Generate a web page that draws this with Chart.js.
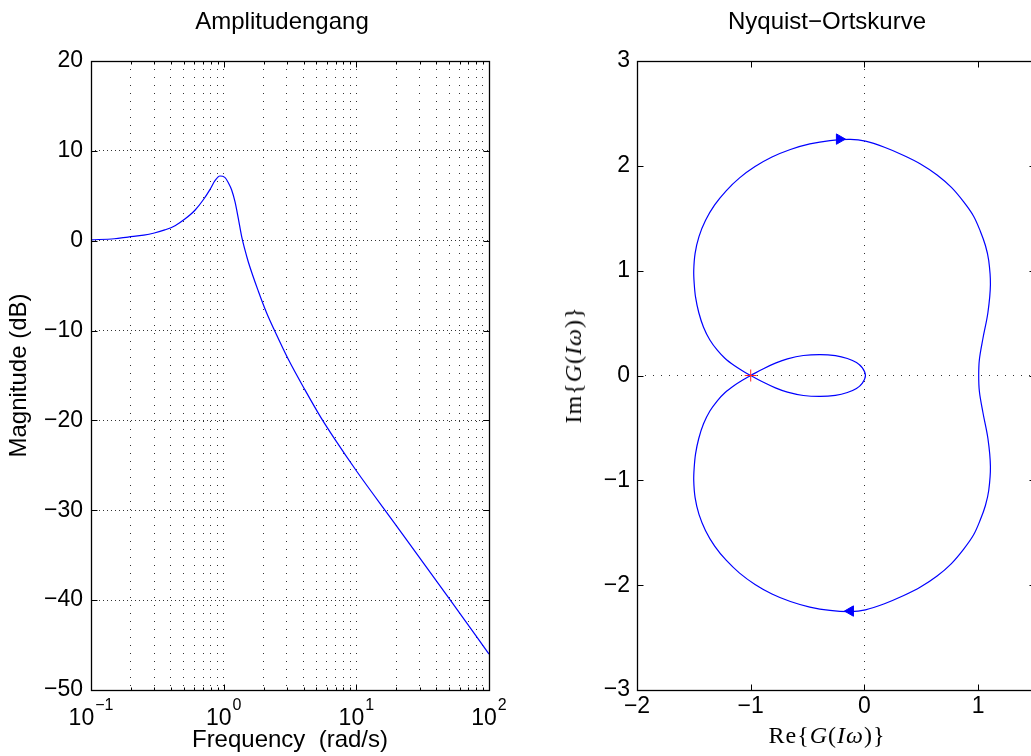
<!DOCTYPE html>
<html><head><meta charset="utf-8">
<script src="https://cdn.jsdelivr.net/npm/chart.js@4.4.1/dist/chart.umd.min.js"></script>
<style>
html,body{margin:0;padding:0;background:#fff;overflow:hidden;width:1031px;height:756px;}
#wrap{position:relative;width:1031px;height:756px;overflow:hidden;background:#fff;}
#c1{position:absolute;left:0;top:0;}
#c2{position:absolute;left:520px;top:0;}
.tex{position:absolute;font-family:'Liberation Serif','Times New Roman',serif;font-size:24px;line-height:24px;color:#000;white-space:nowrap;letter-spacing:1px;}
#reLabel{left:827px;top:723px;transform:translate(-50%,0);}
#imLabel{left:573px;top:365px;transform:translate(-50%,-50%) rotate(-90deg);}
</style></head>
<body><div id="wrap">
<canvas id="c1" width="564" height="756"></canvas>
<canvas id="c2" width="614" height="756"></canvas>
<div class="tex" id="reLabel">Re{<i>G</i>(<i>I</i><i>ω</i>)}</div>
<div class="tex" id="imLabel">Im{<i>G</i>(<i>I</i><i>ω</i>)}</div>
</div>
<script>
// ---------------- data: Amplitudengang ----------------
const freq  = [0.1, 0.15, 0.19, 0.25, 0.3, 0.36, 0.43, 0.51, 0.61, 0.70, 0.79, 0.86, 0.937, 1.02, 1.084, 1.149, 1.217, 1.289, 1.367, 1.447, 1.532, 1.823, 2.109, 2.436, 3.07, 4.1, 5.47, 6.82, 10, 20, 50, 100];
const magDb = [0.1, 0.22, 0.41, 0.62, 0.86, 1.2, 1.67, 2.41, 3.42, 4.53, 5.72, 6.68, 7.2, 7.05, 6.45, 5.64, 4.34, 2.49, 0.45, -1.03, -2.34, -5.6, -8.05, -10.1, -13.2, -16.6, -19.8, -22.0, -25.6, -31.7, -39.8, -46.0];
const magTicks = [-50, -40, -30, -20, -10, 0, 10, 20];
const freqGrid = [0.1,0.2,0.3,0.4,0.5,0.6,0.7,0.8,0.9,1,2,3,4,5,6,7,8,9,10,20,30,40,50,60,70,80,90,100];
const freqDecades = [0.1, 1, 10, 100];
const freqExponents = ['\u22121', '0', '1', '2'];

// ---------------- data: Nyquist-Ortskurve (closed path starting at the crossing) ----------------
const reG = [
  -1.0, -0.888, -0.783, -0.677, -0.537, -0.387, -0.255, -0.150, -0.070, -0.018, 0.009,
  -0.018, -0.070, -0.150, -0.255, -0.387, -0.537, -0.677, -0.783, -0.888, -1.0,
  -1.070, -1.145, -1.225, -1.292, -1.359, -1.415, -1.457, -1.485, -1.497, -1.501, -1.489, -1.455, -1.397, -1.317, -1.216, -1.098, -0.962, -0.813, -0.651, -0.480, -0.303, -0.123,
  0.009, 0.176, 0.346, 0.493, 0.639, 0.765, 0.873, 0.959, 1.020, 1.064, 1.093, 1.108, 1.086, 1.042, 1.011, 1.005,
  1.011, 1.042, 1.086, 1.108, 1.093, 1.064, 1.020, 0.959, 0.873, 0.765, 0.639, 0.493, 0.346, 0.176, 0.009,
  -0.123, -0.303, -0.480, -0.651, -0.813, -0.962, -1.098, -1.216, -1.317, -1.397, -1.455, -1.489, -1.501, -1.497, -1.485, -1.457, -1.415, -1.359, -1.292, -1.225, -1.145, -1.070, -1.0];
const imG = [
  0.0, 0.065, 0.118, 0.159, 0.191, 0.200, 0.189, 0.162, 0.124, 0.072, 0.0,
  -0.072, -0.124, -0.162, -0.189, -0.200, -0.191, -0.159, -0.118, -0.065, 0.0,
  0.043, 0.095, 0.162, 0.239, 0.339, 0.461, 0.601, 0.747, 0.878, 1.002, 1.165, 1.325, 1.480, 1.627, 1.762, 1.885, 1.993, 2.084, 2.156, 2.209, 2.241, 2.252,
  2.235, 2.177, 2.099, 2.018, 1.913, 1.794, 1.656, 1.522, 1.374, 1.240, 1.097, 0.868, 0.601, 0.353, 0.153, 0.0,
  -0.153, -0.353, -0.601, -0.868, -1.097, -1.240, -1.374, -1.522, -1.656, -1.794, -1.913, -2.018, -2.099, -2.177, -2.235,
  -2.252, -2.241, -2.209, -2.156, -2.084, -1.993, -1.885, -1.762, -1.627, -1.480, -1.325, -1.165, -1.002, -0.878, -0.747, -0.601, -0.461, -0.339, -0.239, -0.162, -0.095, -0.043, 0.0];
const arrowX = [-0.22, -0.123];
const arrowY = [2.255, -2.247];
const arrowRotation = [90, 270];
const criticalX = [-1];
const criticalY = [0];
const reTicks = [-2, -1, 0, 1];
const imTicks = [-3, -2, -1, 0, 1, 2, 3];

// ---------------- helpers ----------------
const FONT = "'Liberation Sans', Arial, Helvetica, sans-serif";
Chart.defaults.font.family = FONT;
Chart.defaults.color = '#000';
const fmt = v => (v < 0 ? '\u2212' + Math.abs(v) : String(v));
const toPts = (xs, ys) => xs.map((x, i) => ({x: x, y: ys[i]}));

const framePlugin = {
  id: 'frame',
  afterDatasetsDraw(chart, args, o) {
    const {ctx, chartArea: a} = chart;
    const L = Math.round(a.left) + 0.5, R = Math.round(a.right) + 0.5;
    const T = Math.round(a.top) + 0.5, B = Math.round(a.bottom) + 0.5;
    const xs = chart.scales.x, ys = chart.scales.y;
    ctx.save();
    ctx.strokeStyle = '#000';
    ctx.lineWidth = 1;
    ctx.beginPath();
    (o.xMajor || []).forEach(v => { const p = Math.round(xs.getPixelForValue(v)) + 0.5;
      ctx.moveTo(p, B); ctx.lineTo(p, B - o.len); ctx.moveTo(p, T); ctx.lineTo(p, T + o.len); });
    (o.xMinor || []).forEach(v => { const p = Math.round(xs.getPixelForValue(v)) + 0.5;
      ctx.moveTo(p, B); ctx.lineTo(p, B - o.minorLen); ctx.moveTo(p, T); ctx.lineTo(p, T + o.minorLen); });
    (o.yMajor || []).forEach(v => { const p = Math.round(ys.getPixelForValue(v)) + 0.5;
      ctx.moveTo(L, p); ctx.lineTo(L + o.len, p); ctx.moveTo(R, p); ctx.lineTo(R - o.len, p); });
    ctx.stroke();
    ctx.lineWidth = 1.3;
    ctx.strokeRect(L, T, R - L, B - T);
    ctx.restore();
  }
};

const powerLabels = {
  id: 'powerLabels',
  afterDraw(chart, args, o) {
    const {ctx, chartArea: a} = chart;
    const xs = chart.scales.x;
    ctx.save();
    ctx.fillStyle = '#000';
    ctx.textBaseline = 'alphabetic';
    ctx.textAlign = 'left';
    o.values.forEach((v, i) => {
      const px = xs.getPixelForValue(v);
      ctx.font = '23px ' + FONT;
      const bw = ctx.measureText('10').width;
      ctx.font = '16px ' + FONT;
      const ew = ctx.measureText(o.exps[i]).width;
      const x0 = px - (bw + 1 + ew) / 2;
      ctx.font = '23px ' + FONT;
      ctx.fillText('10', x0, a.bottom + 35);
      ctx.font = '16px ' + FONT;
      ctx.fillText(o.exps[i], x0 + bw + 1, a.bottom + 20);
    });
    ctx.restore();
  }
};

const TICKFONT = { size: 23, family: FONT };
const TITLEFONT = { size: 24, family: FONT, weight: 'normal' };
// invisible right-hand spacer axis (keeps the titles where the original puts them)
const spacer = w => ({
  type: 'linear', position: 'right', display: true,
  grid: { display: false }, ticks: { display: false }, border: { display: false },
  afterFit: s => { s.width = w; }
});

// ---------------- left chart ----------------
new Chart(document.getElementById('c1'), {
  type: 'line',
  data: { datasets: [{
    data: toPts(freq, magDb), xAxisID: 'x', yAxisID: 'y',
    borderColor: '#0000ff', borderWidth: 1.2, pointRadius: 0,
    cubicInterpolationMode: 'monotone', fill: false
  }]},
  options: {
    responsive: false, animation: false, events: [],
    layout: { padding: 0 },
    plugins: {
      legend: { display: false }, tooltip: { enabled: false },
      title: { display: true, text: 'Amplitudengang', fullSize: true, color: '#000',
        font: TITLEFONT, padding: { top: 8.3, bottom: 23.9 } },
      frame: { xMajor: freqDecades, xMinor: freqGrid, yMajor: magTicks, len: 6, minorLen: 3 },
      powerLabels: { values: freqDecades, exps: freqExponents }
    },
    scales: {
      x: {
        type: 'logarithmic', position: 'bottom', min: 0.1, max: 100,
        afterBuildTicks: s => { s.ticks = freqGrid.map(v => ({ value: v })); },
        afterFit: s => { s.height = 66; },
        ticks: { display: false },
        grid: { display: true, drawTicks: false, color: '#333', lineWidth: 1, borderDash: [1, 7] },
        border: { display: false, dash: [1, 7] },
        title: { display: true, text: 'Frequency  (rad/s)', font: TITLEFONT, color: '#000', padding: { top: 0, bottom: 0.9 } }
      },
      y: {
        type: 'linear', position: 'left', min: -50, max: 20,
        afterBuildTicks: s => { s.ticks = magTicks.map(v => ({ value: v })); },
        afterFit: s => { s.width = 91; },
        ticks: { font: TICKFONT, color: '#000', padding: 8, callback: v => fmt(v) },
        grid: { display: true, drawTicks: false, color: '#333', lineWidth: 1, borderDash: [1, 3] },
        border: { display: false, dash: [1, 3] },
        title: { display: true, text: 'Magnitude (dB)', font: TITLEFONT, color: '#000', padding: { top: 5.1, bottom: 0 } }
      },
      yPad: spacer(75)
    }
  },
  plugins: [framePlugin, powerLabels]
});

// ---------------- right chart ----------------
const zeroGrid = c => (c.tick && c.tick.value === 0 ? '#333' : 'rgba(0,0,0,0)');
new Chart(document.getElementById('c2'), {
  type: 'scatter',
  data: { datasets: [
    { data: toPts(criticalX, criticalY), xAxisID: 'x', yAxisID: 'y', pointStyle: 'cross', pointRadius: 6,
      borderColor: '#ff2020', backgroundColor: '#ff2020', borderWidth: 1, showLine: false },
    { data: toPts(arrowX, arrowY), xAxisID: 'x', yAxisID: 'y', pointStyle: 'triangle', pointRadius: 6, pointRotation: arrowRotation,
      borderColor: '#0000ff', backgroundColor: '#0000ff', borderWidth: 1, showLine: false },
    { data: toPts(reG, imG), xAxisID: 'x', yAxisID: 'y', showLine: true, borderColor: '#0000ff', borderWidth: 1.2,
      pointRadius: 0, tension: 0.35, fill: false }
  ]},
  options: {
    responsive: false, animation: false, events: [],
    layout: { padding: 0 },
    plugins: {
      legend: { display: false }, tooltip: { enabled: false },
      title: { display: true, text: 'Nyquist\u2212Ortskurve', fullSize: true, color: '#000',
        font: TITLEFONT, padding: { top: 8.3, bottom: 23.9 } },
      frame: { xMajor: reTicks, yMajor: imTicks, len: 6, minorLen: 3 }
    },
    scales: {
      x: {
        type: 'linear', position: 'bottom', min: -2, max: 1.5,
        afterBuildTicks: s => { s.ticks = reTicks.map(v => ({ value: v })); },
        afterFit: s => { s.height = 66; },
        ticks: { font: TICKFONT, color: '#000', padding: 3.2, callback: v => fmt(v) },
        grid: { display: true, drawTicks: false, color: zeroGrid, lineWidth: 1, borderDash: [1, 7] },
        border: { display: false, dash: [1, 7] }
      },
      y: {
        type: 'linear', position: 'left', min: -3, max: 3,
        afterBuildTicks: s => { s.ticks = imTicks.map(v => ({ value: v })); },
        afterFit: s => { s.width = 117; },
        ticks: { font: TICKFONT, color: '#000', padding: 7, callback: v => fmt(v) },
        grid: { display: true, drawTicks: false, color: zeroGrid, lineWidth: 1, borderDash: [1, 7] },
        border: { display: false, dash: [1, 7] }
      },
      yPad: spacer(99)
    }
  },
  plugins: [framePlugin]
});
</script>
</body></html>
